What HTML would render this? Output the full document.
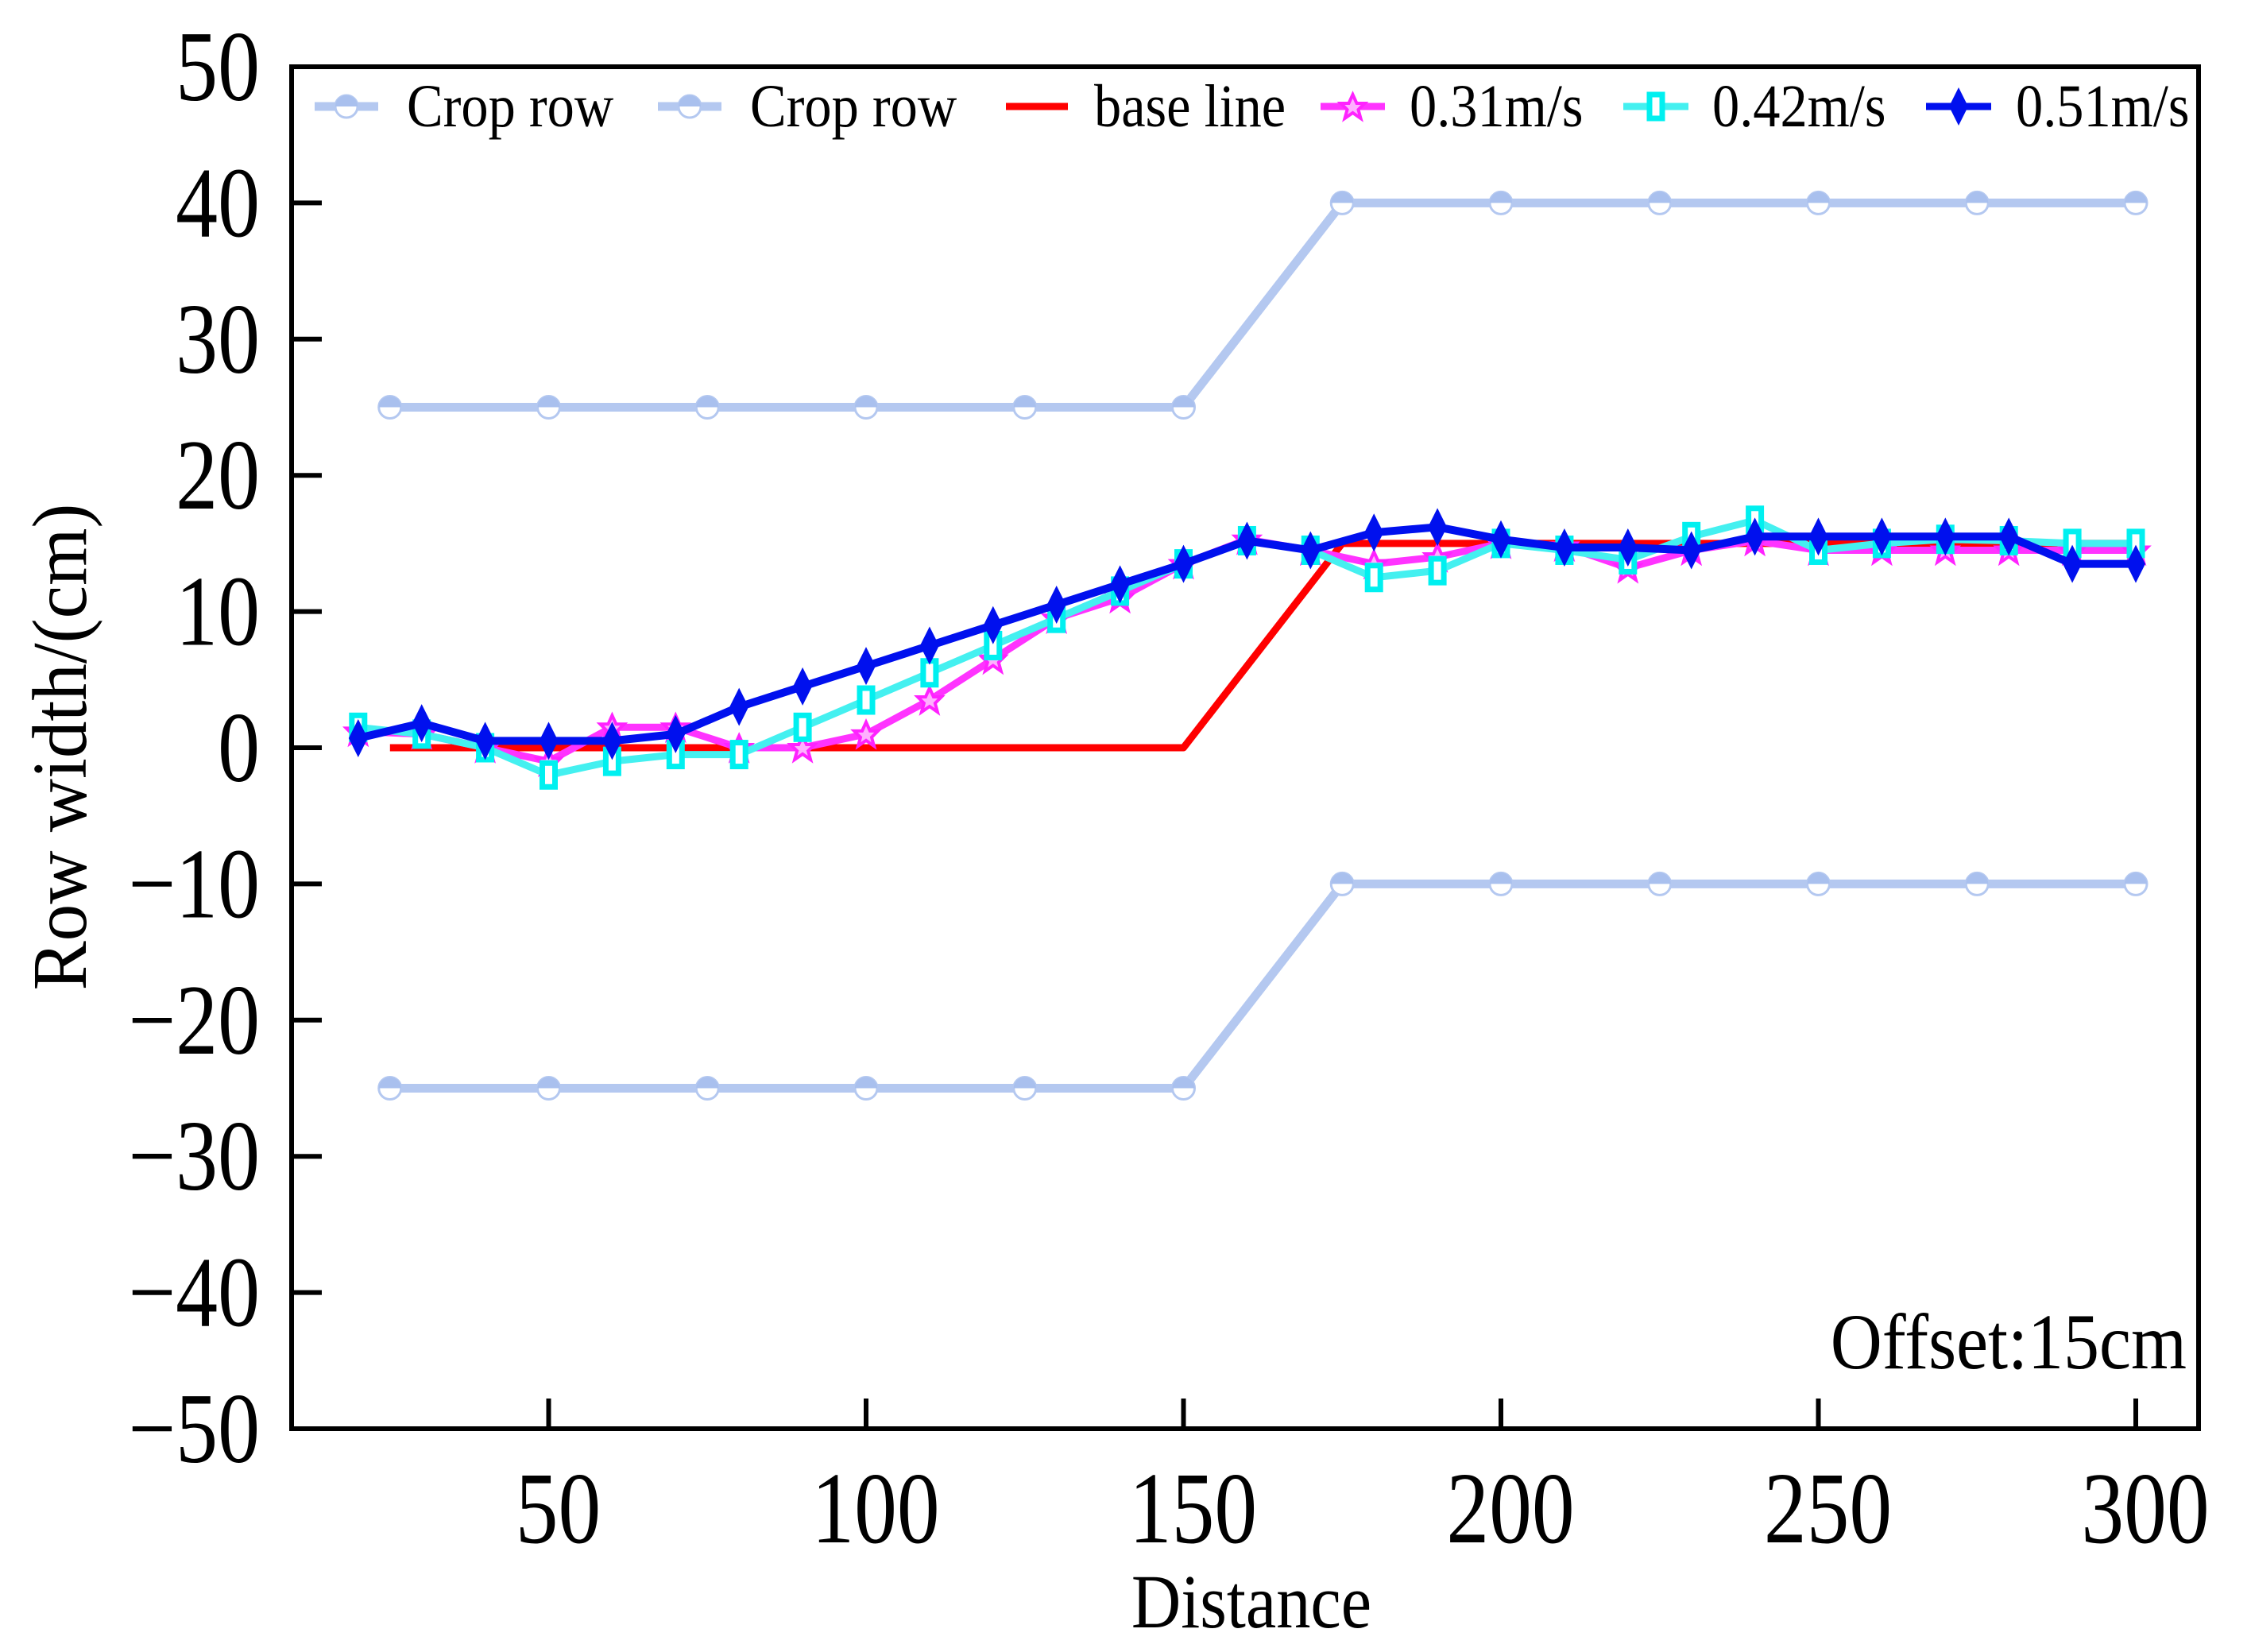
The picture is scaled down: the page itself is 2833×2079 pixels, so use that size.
<!DOCTYPE html>
<html><head><meta charset="utf-8"><style>
html,body{margin:0;padding:0;background:#fff;}
svg{display:block;}
text{font-family:"Liberation Serif",serif;fill:#000;}
</style></head><body>
<svg id="chart" width="2833" height="2079" viewBox="0 0 2833 2079" xmlns="http://www.w3.org/2000/svg">
<g id="series"></g>
<g id="axes"></g>
<g id="legend"></g>
</svg>
<script>
const xTicks = [50, 100, 150, 200, 250, 300];
const yTicks = [50, 40, 30, 20, 10, 0, -10, -20, -30, -40, -50];
const cropX = [25, 50, 75, 100, 125, 150, 175, 200, 225, 250, 275, 300];
const cropUpper = [25, 25, 25, 25, 25, 25, 40, 40, 40, 40, 40, 40];
const cropLower = [-25, -25, -25, -25, -25, -25, -10, -10, -10, -10, -10, -10];
const baseX = [25, 150, 175, 300];
const baseY = [0, 0, 15, 15];
const speedX = [20,30,40,50,60,70,80,90,100,110,120,130,140,150,160,170,180,190,200,210,220,230,240,250,260,270,280,290,300];
const s031 = [1.2,1,0,-1,1.5,1.5,0,0,1,3.5,6.5,9.5,11,13.5,15.3,14.5,13.5,14,15,14.8,13.2,14.5,15.2,14.5,14.5,14.5,14.5,14.5,14.5];
const s042 = [1.5,1,0,-2,-1,-0.5,-0.5,1.5,3.5,5.5,7.5,9.5,11.5,13.5,15.2,14.5,12.5,13,15,14.5,13.8,15.5,16.7,14.5,15,15.3,15.2,15,15];
const s051 = [0.7,1.8,0.5,0.5,0.5,1,3,4.5,6,7.5,9,10.5,12,13.5,15.2,14.5,15.8,16.2,15.3,14.7,14.7,14.5,15.5,15.5,15.5,15.5,15.5,13.5,13.5];

const NS = "http://www.w3.org/2000/svg";
const L = 367, R = 2767, T = 84, B = 1798;
const xs = v => 2688 - (300 - v) * 7.99;
const ys = v => T + (50 - v) * (B - T) / 100;
function mk(tag, attrs, parent) {
  const e = document.createElementNS(NS, tag);
  for (const k in attrs) e.setAttribute(k, attrs[k]);
  parent.appendChild(e);
  return e;
}
function txt(parent, x, y, size, sx, anchor, str, rot) {
  const t = mk('text', {x: 0, y: 0, 'font-size': size, 'text-anchor': anchor,
    transform: `translate(${x},${y})` + (rot ? ' rotate(-90)' : '') + ` scale(${sx},1)`}, parent);
  t.textContent = str;
  return t;
}
const axes = document.getElementById('axes');
const series = document.getElementById('series');
const legend = document.getElementById('legend');

const frame = mk('rect', {x: L, y: T, width: R - L, height: B - T, fill: 'none', stroke: '#000', 'stroke-width': 6}, axes);



xTicks.forEach(v => {
  const t = mk('line', {x1: xs(v), x2: xs(v), y1: B, y2: B - 38, stroke: '#000', 'stroke-width': 6}, axes);
  
  
  const lb = txt(axes, xs(v) + 12, B + 143, 128, 0.84, 'middle', String(v));
  
  
});
yTicks.forEach(v => {
  const t = mk('line', {x1: L, x2: L + 38, y1: ys(v), y2: ys(v), stroke: '#000', 'stroke-width': 6}, axes);
  
  
  const lb = txt(axes, 327, ys(v) + 42, 126, 0.84, 'end', v < 0 ? '\u2212' + (-v) : String(v));
  
  
});
const xt = txt(axes, 1575, 2048, 96, 0.9, 'middle', 'Distance');


const yt = txt(axes, 108, 940, 98, 0.95, 'middle', 'Row width/(cm)', true);


const off = txt(axes, 2752, 1722, 100, 0.9, 'end', 'Offset:15cm');



function poly(xv, yv, color, w, name) {
  const pts = xv.map((x, i) => xs(x).toFixed(1) + ',' + ys(yv[i]).toFixed(1)).join(' ');
  const p = mk('polyline', {points: pts, fill: 'none', stroke: color, 'stroke-width': w, 'stroke-linejoin': 'round'}, series);
  
  
}
function circ(cx, cy, parent) {
  mk('circle', {cx, cy, r: 14, fill: '#fff', stroke: '#b4c8f0', 'stroke-width': 3}, parent);
  mk('path', {d: `M${cx-14},${cy} A14,14 0 0 1 ${cx+14},${cy} Z`, fill: '#a9c0ee'}, parent);
}
function sq(cx, cy, parent) {
  mk('rect', {x: cx - 8, y: cy - 15, width: 16, height: 30, fill: '#fff', stroke: '#00f0f0', 'stroke-width': 7}, parent);
}
function star(cx, cy, parent) {
  mk('path', {d: `M${cx},${cy-15} L${cx+5},${cy-4} L${cx+15},${cy-4} L${cx+7},${cy+4} L${cx+10},${cy+15} L${cx},${cy+8} L${cx-10},${cy+15} L${cx-7},${cy+4} L${cx-15},${cy-4} L${cx-5},${cy-4} Z`, fill: '#ffb0ff', stroke: '#ff22ff', 'stroke-width': 4}, parent);
}
function dia(cx, cy, parent) {
  mk('path', {d: `M${cx},${cy-24} L${cx+12},${cy} L${cx},${cy+24} L${cx-12},${cy} Z`, fill: '#0010ee'}, parent);
}

poly(cropX, cropUpper, '#b4c8f0', 11, 'crop-row-upper-line');
poly(cropX, cropLower, '#b4c8f0', 11, 'crop-row-lower-line');
cropX.forEach((x, i) => {
  const g1 = mk('g', {}, series);
  
  
  circ(xs(x), ys(cropUpper[i]), g1);
  const g2 = mk('g', {}, series);
  
  
  circ(xs(x), ys(cropLower[i]), g2);
});
poly(baseX, baseY, '#ff0000', 9, 'base-line');
poly(speedX, s031, '#ff33ff', 9, 'speed-031-line');
speedX.forEach((x, i) => {
  const g = mk('g', {}, series);
  
  
  star(xs(x), ys(s031[i]), g);
});
poly(speedX, s042, '#44f0f0', 9, 'speed-042-line');
speedX.forEach((x, i) => {
  const g = mk('g', {}, series);
  
  
  sq(xs(x), ys(s042[i]), g);
});
poly(speedX, s051, '#0010ee', 10, 'speed-051-line');
speedX.forEach((x, i) => {
  const g = mk('g', {}, series);
  
  
  dia(xs(x), ys(s051[i]), g);
});

const legItems = [
  {x1: 396, x2: 476, tx: 512, label: 'Crop row', color: '#b4c8f0', w: 11, m: circ},
  {x1: 828, x2: 908, tx: 944, label: 'Crop row', color: '#b4c8f0', w: 11, m: circ},
  {x1: 1266, x2: 1344, tx: 1377, label: 'base line', color: '#ff0000', w: 9, m: null},
  {x1: 1662, x2: 1743, tx: 1774, label: '0.31m/s', color: '#ff33ff', w: 9, m: star},
  {x1: 2043, x2: 2125, tx: 2155, label: '0.42m/s', color: '#44f0f0', w: 9, m: sq},
  {x1: 2424, x2: 2506, tx: 2537, label: '0.51m/s', color: '#0010ee', w: 9, m: dia}
];
const LY = 134;
legItems.forEach(it => {
  const g = mk('g', {}, legend);
  
  
  mk('line', {x1: it.x1, x2: it.x2, y1: LY, y2: LY, stroke: it.color, 'stroke-width': it.w}, g);
  if (it.m) it.m((it.x1 + it.x2) / 2, LY, g);
  txt(g, it.tx, LY + 25, 76, 0.9, 'start', it.label);
});
</script>
</body></html>
